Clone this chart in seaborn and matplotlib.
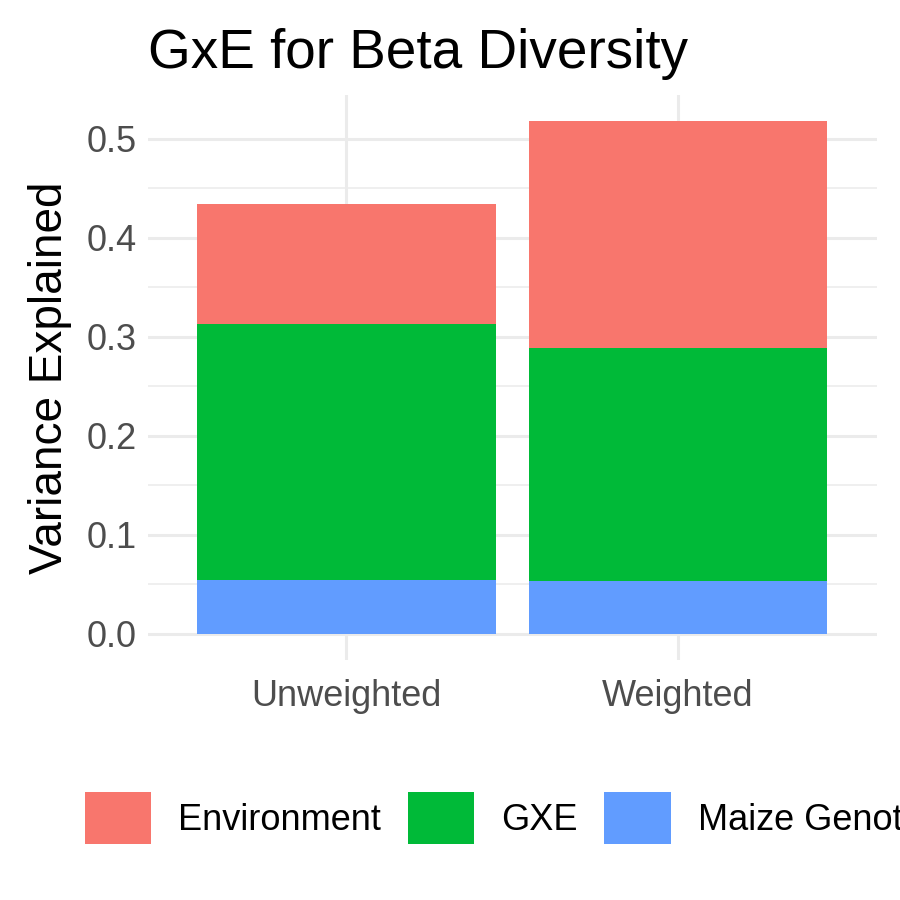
import matplotlib
matplotlib.use("Agg")
import matplotlib.pyplot as plt
import seaborn as sns
import pandas as pd
from matplotlib.patches import Patch
from matplotlib.ticker import MultipleLocator

categories = ["Unweighted", "Weighted"]
maize = [0.055, 0.053]
gxe = [0.258, 0.236]
environment = [0.121, 0.229]

components = ["Environment", "GXE", "Maize Genotype"]
colors = ["#F8766D", "#00BA38", "#619CFF"]

sns.set_theme(style="white")
plt.rcParams['font.family'] = ['Liberation Sans', 'DejaVu Sans']

fig = plt.figure(figsize=(9, 9), dpi=100)
ax = fig.add_axes([0.164, 0.267, 0.81, 0.627])

df = pd.DataFrame({"cat": categories, "maize": maize, "gxe": gxe, "env": environment})
df["top_gxe"] = df["maize"] + df["gxe"]
df["top_env"] = df["top_gxe"] + df["env"]

# draw cumulative totals back to front for stacking
for col, c in zip(["top_env", "top_gxe", "maize"], colors):
    sns.barplot(data=df, x="cat", y=col, color=c, width=0.9, saturation=1,
                edgecolor="none", ax=ax)

ax.set_xlim(-0.6, 1.6)
ax.set_ylim(-0.026, 0.544)
ax.yaxis.set_major_locator(MultipleLocator(0.1))
ax.yaxis.set_minor_locator(MultipleLocator(0.05))
ax.set_axisbelow(True)
ax.grid(which="major", axis="both", color="#EBEBEB", linewidth=2.2)
ax.grid(which="minor", axis="y", color="#EBEBEB", linewidth=1.1)
for s in ax.spines.values():
    s.set_visible(False)
ax.tick_params(axis="both", which="both", length=0, labelsize=26, colors="#4D4D4D", pad=8)
ax.tick_params(axis="x", pad=14)
ax.set_yticks([0, 0.1, 0.2, 0.3, 0.4, 0.5])
ax.set_yticklabels(["0.0", "0.1", "0.2", "0.3", "0.4", "0.5"])
ax.set_xlabel("")
ax.set_ylabel("Variance Explained", fontsize=33, color="black", labelpad=10)
ax.set_title("GxE for Beta Diversity", fontsize=39.5, loc="left", pad=20, color="black")

handles = [Patch(facecolor=c, edgecolor="none") for c in colors]
fig.legend(handles, components, loc="center left", bbox_to_anchor=(0.094, 0.091),
           ncol=3, frameon=False, fontsize=26, handlelength=1.83, handleheight=1.83,
           handletextpad=0.75, columnspacing=0.75, borderaxespad=0, borderpad=0,
           labelcolor="black")

fig.savefig("out.png", dpi=100)
